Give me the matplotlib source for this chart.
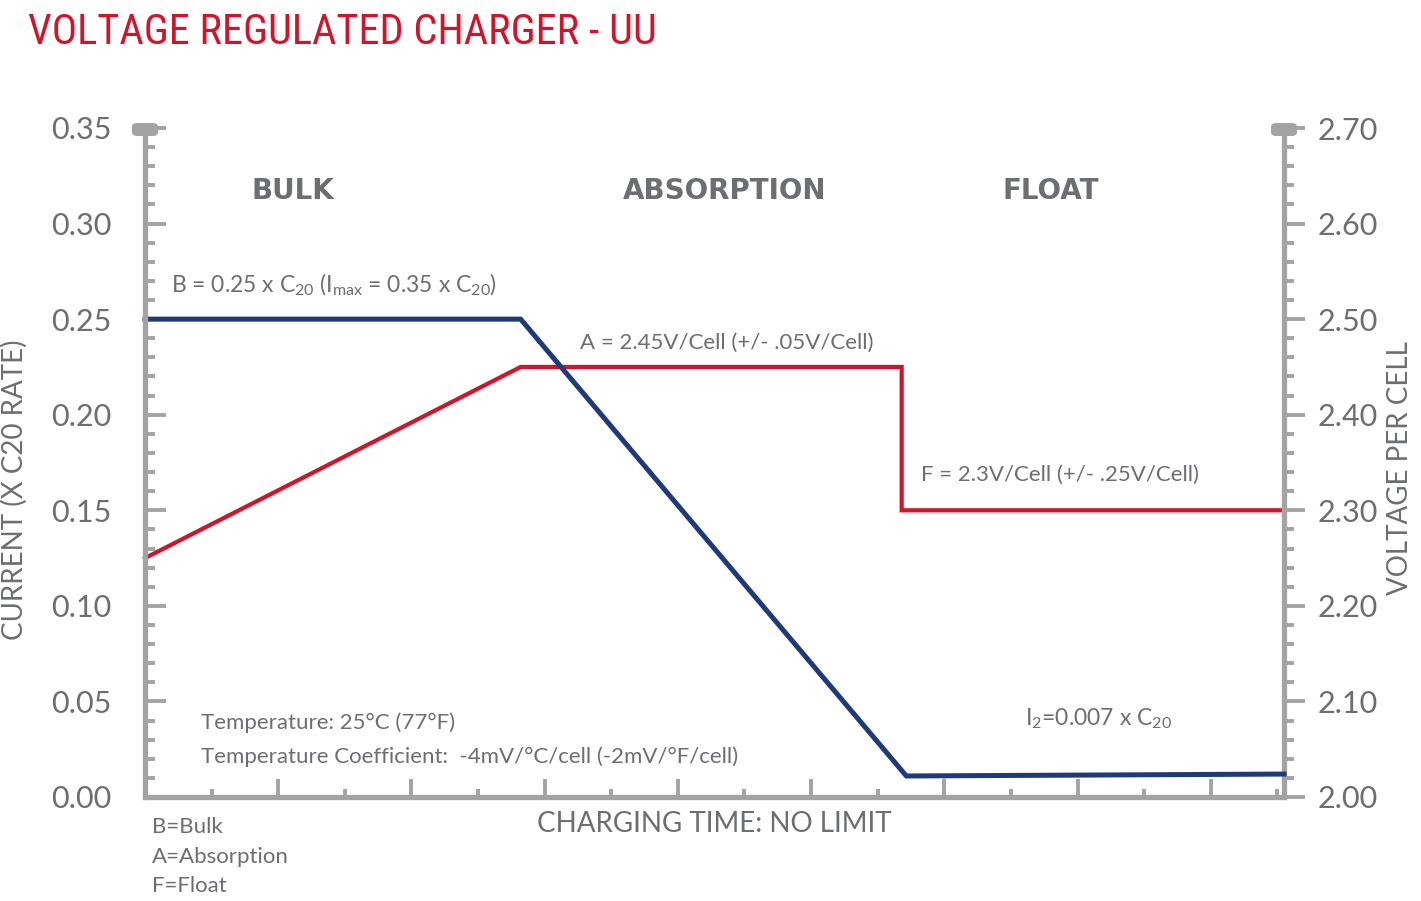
import matplotlib
matplotlib.use('Agg')
import matplotlib.pyplot as plt
from matplotlib import font_manager
from matplotlib.patches import FancyBboxPatch
from matplotlib.ticker import MultipleLocator, FormatStrFormatter

# data
time_current = [0, 5.64, 11.43, 17.1]
current = [0.25, 0.25, 0.011, 0.012]
time_voltage = [0, 5.64, 11.36, 11.36, 17.1]
voltage = [2.25, 2.45, 2.45, 2.30, 2.30]
phases = ['BULK', 'ABSORPTION', 'FLOAT']

W, H = 1421, 901
GREY = '#6d6e71'
AXIS = '#a3a3a3'
BLUE = '#1f3a78'
RED = '#d2132a'
TITLE = 'VOLTAGE REGULATED CHARGER - UU'

plt.rcParams['font.family'] = ['Lato', 'DejaVu Sans']
plt.rcParams['mathtext.default'] = 'regular'


def px(x, y):
    return x / W, 1 - y / H


fig = plt.figure(figsize=(W / 100, H / 100), dpi=100)
renderer = fig.canvas.get_renderer()

# title is a condensed face: among the usual families pick the one closest in width
families = ('DejaVu', 'Liberation', 'Noto Sans', 'Roboto', 'Open Sans', 'Lato', 'Inter')
skip = ('CJK', 'Symbol', 'Math', 'Mono', 'Emoji')
WEIGHT = {'normal': 400, 'regular': 400, 'book': 400, 'medium': 500}


def has_glyphs(fname):
    try:
        font = font_manager.get_font(fname)
        return all(font.get_char_index(ord(c)) != 0 for c in set(TITLE) if c != ' ')
    except Exception:
        return False


def title_width(fname, size):
    tt = fig.text(0, 0, TITLE, fontproperties=font_manager.FontProperties(fname=fname, size=size))
    w = tt.get_window_extent(renderer).width
    tt.remove()
    return w


def title_font(max_weight):
    best, best_err = None, None
    for f in font_manager.fontManager.ttflist:
        wgt = f.weight if isinstance(f.weight, int) else WEIGHT.get(str(f.weight), 700)
        if f.style != 'normal' or wgt > max_weight or wgt < 400:
            continue
        if not f.name.startswith(families) or any(s in f.name for s in skip):
            continue
        if not has_glyphs(f.fname):
            continue
        try:
            err = abs(title_width(f.fname, 33) - 582)
        except Exception:
            continue
        if best_err is None or err < best_err:
            best, best_err = f.fname, err
    return best, best_err


best, err = title_font(400)
if best is None or err > 40:
    best2, err2 = title_font(500)
    if best2 is not None and (err is None or err2 < err):
        best, err = best2, err2

title_size = 33
if best:
    w33 = title_width(best, 33)
    if w33 > 582:
        title_size = 33 * (582 / w33) ** 0.5

left, bottom = px(145, 797)
right, top = px(1284, 128)
ax = fig.add_axes([left, bottom, right - left, top - bottom])
ax2 = ax.twinx()
ax.set_zorder(ax2.get_zorder() + 1)
ax.patch.set_visible(False)

ax.plot(time_current, current, color=BLUE, lw=3.6, solid_joinstyle='miter', clip_on=False)
ax2.plot(time_voltage, voltage, color=RED, lw=3.0, solid_joinstyle='miter', clip_on=False)

ax.set_xlim(0, 17.1)
ax.set_ylim(0, 0.35)
ax2.set_ylim(2.0, 2.7)

for a in (ax, ax2):
    for s in a.spines.values():
        s.set_visible(False)
for s in ('left', 'bottom'):
    ax.spines[s].set_visible(True)
    ax.spines[s].set_color(AXIS)
    ax.spines[s].set_linewidth(3.8)
ax2.spines['right'].set_visible(True)
ax2.spines['right'].set_color(AXIS)
ax2.spines['right'].set_linewidth(3.8)

ax.xaxis.set_major_locator(MultipleLocator(2))
ax.xaxis.set_minor_locator(MultipleLocator(1))
ax.set_xticklabels([])
ax.tick_params(axis='x', which='major', direction='in', length=13, width=2.8, color=AXIS, labelbottom=False)
ax.tick_params(axis='x', which='minor', direction='in', length=6, width=2.8, color=AXIS)

ax.yaxis.set_major_locator(MultipleLocator(0.05))
ax.yaxis.set_minor_locator(MultipleLocator(0.01))
ax.yaxis.set_major_formatter(FormatStrFormatter('%.2f'))
ax.tick_params(axis='y', which='major', direction='in', length=15, width=2.8, color=AXIS,
               labelsize=22, labelcolor=GREY, pad=24)
ax.tick_params(axis='y', which='minor', direction='in', length=7, width=2.8, color=AXIS)

ax2.yaxis.set_major_locator(MultipleLocator(0.1))
ax2.yaxis.set_minor_locator(MultipleLocator(0.02))
ax2.yaxis.set_major_formatter(FormatStrFormatter('%.2f'))
ax2.tick_params(axis='y', which='major', direction='out', length=15, width=2.8, color=AXIS,
                labelsize=22, labelcolor=GREY, pad=9)
ax2.tick_params(axis='y', which='minor', direction='out', length=7, width=2.8, color=AXIS)

# little caps on top of the vertical axes
for cx in (145, 1284):
    x0, y0 = px(cx - 13, 136)
    fig.patches.append(FancyBboxPatch((x0, y0), 26 / W, 13 / H,
                                      boxstyle='round,pad=0,rounding_size=0.004',
                                      transform=fig.transFigure, fc=AXIS, ec='none', zorder=5))

# title
if best:
    fig.text(*px(28, 33), TITLE, color=RED,
             fontproperties=font_manager.FontProperties(fname=best, size=title_size),
             va='center', ha='left')
else:
    fig.text(*px(28, 33), TITLE, color=RED, fontsize=25, va='center', ha='left')

# phase headings
for name, cx in zip(phases, [293, 725, 1051]):
    fig.text(*px(cx, 191), name, color=GREY, fontsize=20, fontweight='bold',
             family='DejaVu Sans', ha='center', va='center')

# axis titles
fig.text(*px(14, 490), 'CURRENT (X C20 RATE)', rotation=90, color=GREY, fontsize=20,
         ha='center', va='center')
fig.text(*px(1400, 468), 'VOLTAGE PER CELL', rotation=90, color=GREY, fontsize=20,
         ha='center', va='center')
fig.text(*px(714, 832), 'CHARGING TIME: NO LIMIT', color=GREY, fontsize=20,
         ha='center', va='baseline')

# annotations
ann = 16
fig.text(*px(171, 292), r'B = 0.25 x C$_{20}$ (I$_{max}$ = 0.35 x C$_{20}$)', color=GREY,
         fontsize=ann + 0.5, va='baseline')
fig.text(*px(580, 349), 'A = 2.45V/Cell (+/- .05V/Cell)', color=GREY, fontsize=ann, va='baseline')
fig.text(*px(921, 481), 'F = 2.3V/Cell (+/- .25V/Cell)', color=GREY, fontsize=ann, va='baseline')
fig.text(*px(1025, 725), r'I$_2$=0.007 x C$_{20}$', color=GREY, fontsize=ann + 0.5, va='baseline')
fig.text(*px(201, 729), 'Temperature: 25°C (77°F)', color=GREY, fontsize=ann, va='baseline')
fig.text(*px(201, 763), 'Temperature Coefficient:  -4mV/°C/cell (-2mV/°F/cell)', color=GREY,
         fontsize=ann, va='baseline')
for txt, yb in zip(['B=Bulk', 'A=Absorption', 'F=Float'], [833, 863, 892]):
    fig.text(*px(152, yb), txt, color=GREY, fontsize=16, va='baseline')

fig.savefig('out.png', dpi=100)
